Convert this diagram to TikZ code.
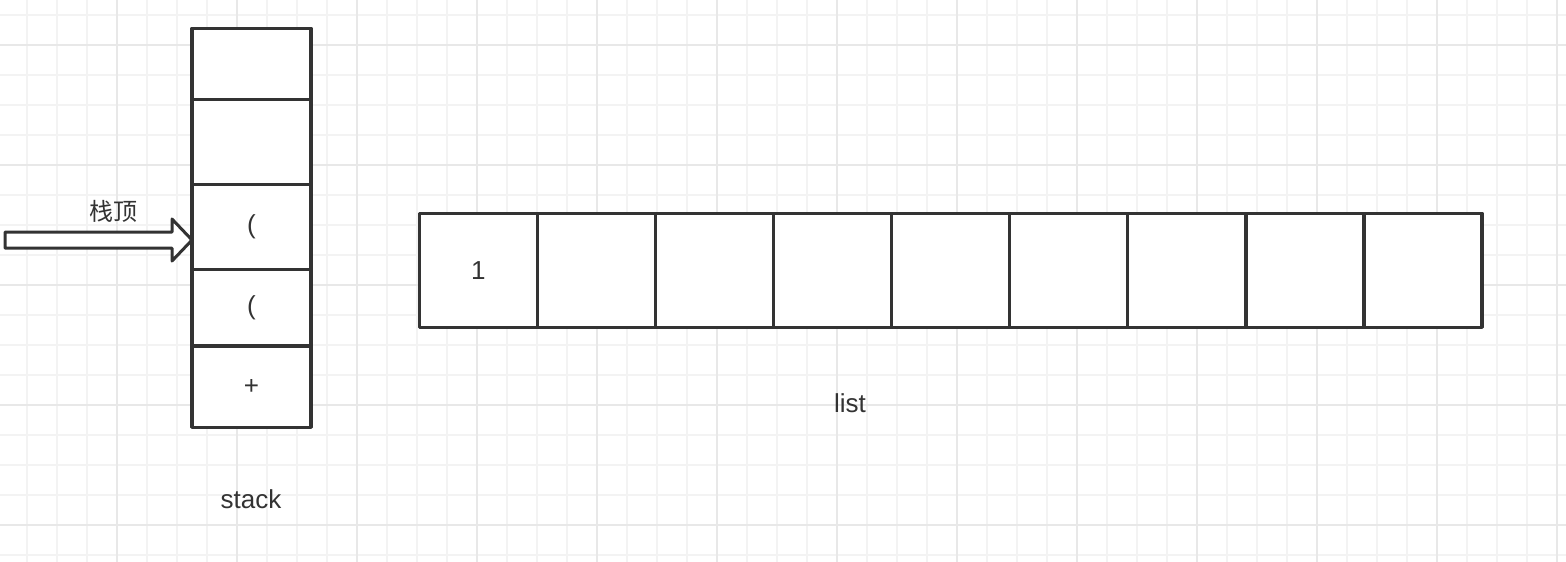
\documentclass[tikz,border=0pt]{standalone}
\usepackage{fontspec}
\setmainfont{Liberation Sans}
\newfontfamily\cjkfont{Noto Sans CJK SC}
\usetikzlibrary{calc}
\definecolor{ink}{HTML}{333333}
\definecolor{gridminor}{HTML}{F3F3F3}
\definecolor{gridmajor}{HTML}{E8E8E8}
\tikzset{
  cellbox/.style={draw=ink, line width=3.5pt, fill=white, inner sep=0pt, outer sep=0pt,
    line join=round, text=ink, font=\fontsize{26}{30}\selectfont},
  lbl/.style={text=ink, inner sep=0pt, font=\fontsize{26}{30}\selectfont},
  fatarrow/.style={draw=ink, line width=3pt, fill=white, line join=round},
  minorline/.style={draw=gridminor, line width=1.6pt},
  majorline/.style={draw=gridmajor, line width=1.6pt}
}
\begin{document}
\begin{tikzpicture}[x=1pt,y=-1pt]
\fill[white] (0,0) rectangle (1566,562);
\useasboundingbox (0,0) rectangle (1566,562);
% grid
\foreach \i in {0,...,51} {
  \pgfmathsetmacro{\gx}{26.7+30*\i}
  \draw[minorline] (\gx,0) -- (\gx,562);
}
\foreach \i in {0,...,18} {
  \pgfmathsetmacro{\gy}{15+30*\i}
  \draw[minorline] (0,\gy) -- (1566,\gy);
}
\foreach \i in {0,...,12} {
  \pgfmathsetmacro{\gx}{116.7+120*\i}
  \draw[majorline] (\gx,0) -- (\gx,562);
}
\foreach \i in {0,...,4} {
  \pgfmathsetmacro{\gy}{45+120*\i}
  \draw[majorline] (0,\gy) -- (1566,\gy);
}
% stack
\node[cellbox, minimum width=119pt, minimum height=71pt] (s1) at (251.5,63.8) {};
\node[cellbox, minimum width=119pt, minimum height=85.2pt] (s2) at (251.5,141.9) {};
\node[cellbox, minimum width=119pt, minimum height=84.8pt] (s3) at (251.5,226.9) {(};
\node[cellbox, minimum width=119pt, minimum height=76.7pt] (s4) at (251.5,307.65) {(};
\node[cellbox, minimum width=119pt, minimum height=81.3pt] (s5) at (251.5,386.65) {+};
\node[lbl] (stacklbl) at (251,499) {stack};
% list
\foreach \k/\t in {0/1,1/,2/,3/,4/,5/,6/,7/,8/} {
  \node[cellbox, minimum width=118.07pt, minimum height=114pt] (l\k) at ({478.33+118.07*\k},270.3) {\t};
}
\node[lbl] (listlbl) at (850,403) {list};
% arrow to stack top
\coordinate (tip) at (s3.west |- 0,240);
\draw[fatarrow, shift={(tip)}] (-187,-8) -- (-20,-8) -- (-20,-21) -- (0,0) -- (-20,21) -- (-20,8) -- (-187,8) -- cycle;
\node[lbl, font=\cjkfont\fontsize{24}{28}\selectfont] (toplbl) at (113,211) {栈顶};
\end{tikzpicture}
\end{document}
